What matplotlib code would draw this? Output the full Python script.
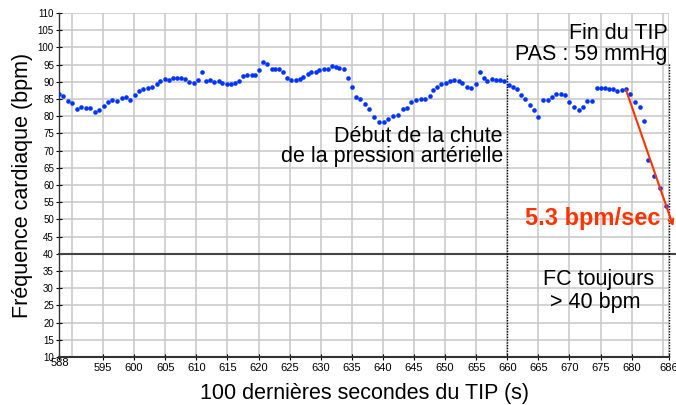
import numpy as np
import matplotlib
matplotlib.use('Agg')
import matplotlib.pyplot as plt
from matplotlib.transforms import ScaledTranslation

plt.rcParams['font.family'] = ['Liberation Sans', 'DejaVu Sans']

# beat times (s) and heart rate (bpm)
times = [588.0, 588.6, 589.3, 590.0, 590.8, 591.5, 592.2, 592.9, 593.7, 594.4,
         595.1, 595.8, 596.5, 597.2, 598.0, 598.7, 599.4, 600.1, 600.8, 601.5,
         602.2, 602.9, 603.6, 604.2, 604.9, 605.6, 606.3, 606.9, 607.6, 608.2,
         608.9, 609.6, 610.2, 610.9, 611.5, 612.2, 612.9, 613.6, 614.2, 614.9,
         615.5, 616.2, 616.9, 617.5, 618.2, 618.9, 619.5, 620.1, 620.8, 621.4,
         622.1, 622.7, 623.3, 624.0, 624.6, 625.3, 626.0, 626.6, 627.2, 627.9,
         628.5, 629.2, 629.8, 630.5, 631.1, 631.8, 632.4,
         633.0, 633.7, 634.4, 635.0, 635.7, 636.4, 637.1, 637.8, 638.5, 639.3,
         640.1, 640.8, 641.6, 642.4, 643.2, 643.9, 644.6, 645.3, 646.1, 646.8,
         647.5, 648.1, 648.7, 649.4, 650.1, 650.8, 651.5, 652.2, 652.8, 653.5,
         654.2, 654.9, 655.6, 656.2, 656.8, 657.5, 658.2, 658.8, 659.5, 660.2,
         660.9, 661.5, 662.2, 662.9, 663.6, 664.3, 665.0, 665.8, 666.5, 667.2,
         667.9, 668.6, 669.3, 670.0, 670.7, 671.5, 672.2, 672.9, 673.7, 674.4,
         675.0, 675.7, 676.3, 677.0, 677.7, 678.4, 679.1, 679.8, 680.6, 681.3,
         682.0, 682.7, 683.6, 684.6, 685.6]
hr = [86.4, 85.9, 84.4, 83.7, 82.2, 82.8, 82.3, 82.3, 81.3, 81.8,
      82.9, 84.2, 84.6, 84.4, 85.2, 85.7, 84.8, 86.2, 87.2, 87.8,
      88.1, 88.5, 89.3, 90.2, 90.9, 90.6, 91.0, 91.0, 91.1, 90.7,
      90.0, 89.6, 90.5, 92.7, 90.1, 90.4, 89.8, 90.1, 89.5, 89.3,
      89.3, 89.7, 90.2, 91.7, 91.9, 91.9, 91.9, 93.4, 95.8, 95.3,
      93.6, 93.6, 93.6, 92.7, 91.1, 90.6, 90.6, 90.9, 91.5, 92.4,
      92.8, 92.9, 93.3, 93.6, 93.8, 94.7, 94.2,
      94.1, 93.6, 91.1, 88.5, 85.5, 84.9, 83.4, 82.2, 79.9, 78.4,
      78.2, 79.1, 80.1, 80.4, 82.0, 82.4, 84.0, 84.7, 85.0, 85.1,
      85.8, 87.6, 88.6, 89.4, 89.7, 90.1, 90.4, 90.1, 89.6, 88.4,
      88.1, 89.3, 92.7, 91.2, 90.2, 90.9, 90.6, 90.5, 90.3, 89.2,
      88.5, 87.9, 86.1, 84.9, 83.2, 81.7, 79.9, 84.6, 84.7, 85.7,
      86.3, 86.5, 86.1, 84.0, 82.8, 81.8, 82.7, 84.4, 84.4, 88.2,
      88.2, 88.2, 88.0, 87.8, 87.3, 87.7, 87.9, 86.5, 84.2, 82.6,
      78.7, 67.4, 62.5, 59.0, 53.9]

xticks = [588, 595, 600, 605, 610, 615, 620, 625, 630, 635, 640, 645, 650,
          655, 660, 665, 670, 675, 680, 686]
xgrid = [590, 595, 600, 605, 610, 615, 620, 625, 630, 635, 640, 645, 650,
         655, 660, 665, 670, 675, 680, 685, 686]
yticks = list(range(10, 115, 5))

fig = plt.figure(figsize=(6.76, 4.05), dpi=100)
ax = fig.add_axes([0.088, 0.1185, 0.9016, 0.8495])

ax.set_xlim(588, 686)
ax.set_ylim(10, 110)

# grid
for g in xgrid:
    ax.axvline(g, color='#c8c8c8', lw=1.1, zorder=0)
for g in yticks:
    ax.axhline(g, color='#c8c8c8', lw=1.1, zorder=0)

# threshold line at 40 bpm
ax.plot([588, 687], [40, 40], color='#444444', lw=1.5, clip_on=False, zorder=2)

# markers for "debut de la chute" and "fin du TIP"
ax.plot([660, 660], [10, 92.3], color='black', lw=1, ls=(0, (1, 1)), zorder=2)
ax.plot([686, 686], [10, 95.5], color='black', lw=1, ls=(0, (1, 1)), zorder=2, clip_on=False)

ax.plot(times, hr, 'o', color='#0033ff', ms=3.3, mec='none', zorder=3)

# slope arrow
ax.annotate('', xy=(686.7, 48.0), xytext=(679.1, 87.6),
            arrowprops=dict(arrowstyle='->', color='#ff3300', lw=1.5,
                            shrinkA=0, shrinkB=0, mutation_scale=9),
            annotation_clip=False, zorder=4)

ax.text(684.6, 50.4, '5.3 bpm/sec', color='#ff3300', fontsize=17,
        fontweight='bold', ha='right', va='center')
ax.text(685.8, 102.4, 'Fin du TIP', fontsize=15.5, ha='right', va='baseline')
ax.text(685.8, 96.3, 'PAS : 59 mmHg', fontsize=15.5, ha='right', va='baseline')
ax.text(659.2, 72.6, 'Début de la chute', fontsize=15.5, ha='right', va='baseline')
ax.text(659.3, 66.8, 'de la pression artérielle', fontsize=15.5, ha='right', va='baseline')
ax.text(665.7, 30.9, 'FC toujours', fontsize=15.5, ha='left', va='baseline')
ax.text(666.8, 24.2, '> 40 bpm', fontsize=15.5, ha='left', va='baseline')

ax.set_xticks(xticks)
ax.set_xticklabels([str(t) for t in xticks])
ax.set_yticks(yticks)
ax.tick_params(axis='x', labelsize=8, direction='inout', length=4, pad=2)
ax.tick_params(axis='y', labelsize=7, direction='inout', length=4, pad=2)
# first x label sits a little higher in the original
lbl0 = ax.get_xticklabels()[0]
lbl0.set_transform(lbl0.get_transform() + ScaledTranslation(0, 3 / 72, fig.dpi_scale_trans))

for s in ['top', 'right']:
    ax.spines[s].set_visible(False)
ax.spines['left'].set_color('#333333')
ax.spines['left'].set_linewidth(1.0)
ax.spines['bottom'].set_color('#333333')
ax.spines['bottom'].set_linewidth(1.5)

ax.set_xlabel('100 dernières secondes du TIP (s)', fontsize=15.5)
ax.set_ylabel('Fréquence cardiaque (bpm)', fontsize=15.5)
ax.xaxis.set_label_coords(0.5, -0.075)
ax.yaxis.set_label_coords(-0.043, 0.5)

fig.savefig('out.png', dpi=100)
